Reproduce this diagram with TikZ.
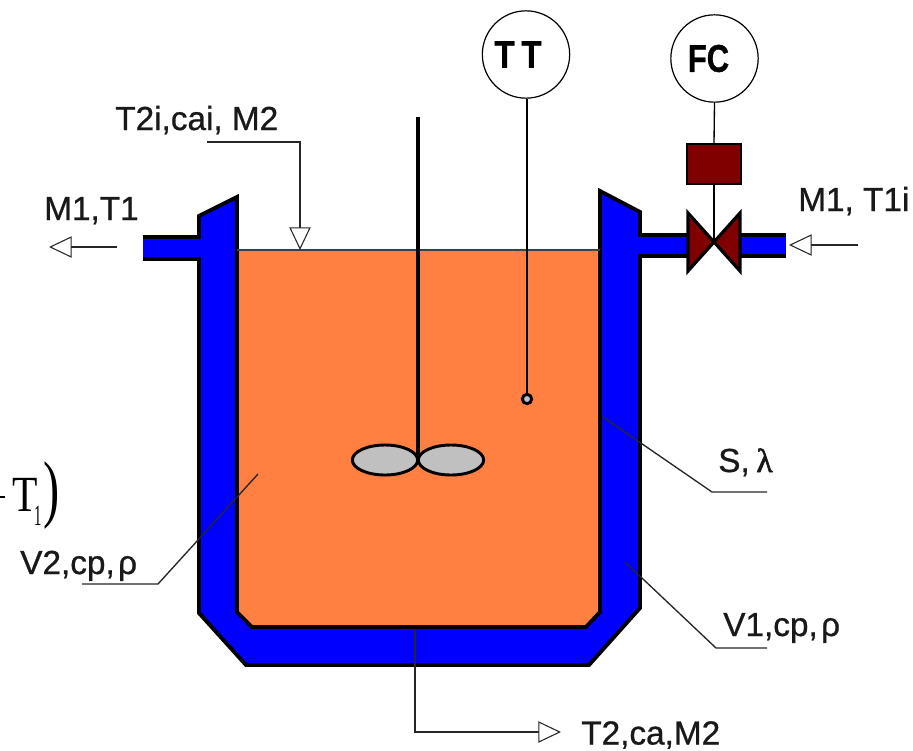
\documentclass[tikz,border=0pt]{standalone}
\usepackage{fontspec}
\setmainfont{Liberation Sans}
\newfontfamily\serifnum{Liberation Serif}
\newfontfamily\lblfont[FakeBold=0.8]{Liberation Sans}
\newfontfamily\lamfont[FakeBold=2]{Liberation Serif}
\newfontfamily\instfont[FakeBold=1]{Liberation Sans Bold}
\usetikzlibrary{arrows.meta,shapes.geometric}
\definecolor{jacket}{RGB}{0,0,255}
\definecolor{liquid}{RGB}{255,128,64}
\definecolor{valvered}{RGB}{128,0,0}
\definecolor{paddle}{RGB}{192,192,192}
\tikzset{
 lbl/.style={inner sep=0pt,anchor=base west,font=\lblfont\fontsize{25pt}{26pt}\selectfont,text=black!90},
 wall/.style={draw=black,line width=2.9pt,line join=miter},
 leader/.style={draw=black!85,line width=1pt},
 flow/.style={leader,-{Triangle[open,fill=white,length=17pt,width=16pt,line width=.8pt]}},
 instrument/.style={circle,draw=black,line width=.9pt,fill=white,minimum size=65.5pt,inner sep=0pt,font=\instfont\fontsize{29pt}{29pt}\selectfont},
 paddlestyle/.style={ellipse,draw=black,line width=2.2pt,fill=paddle,minimum width=49pt,minimum height=22.5pt,inner sep=0pt},
 valvepart/.style={draw=black,line width=2.4pt,line join=miter,fill=valvered},
}
\begin{document}
\begin{tikzpicture}[x=.75pt,y=-.75pt]
\useasboundingbox (0,0) rectangle (913,750);
% jacket fill
\path[fill=jacket]
 (143,237)--(199,237)--(199,216)--(237,197)--(237,250)--(600,250)--(600,191)--(640,212)--(640,235)
 --(690,235)--(690,256)--(640,256)--(640,608)--(589,665)--(246,665)--(199,613)--(199,259)--(143,259)--cycle;
\path[fill=jacket] (735,235) rectangle (786,256);
% vessel
\path[fill=liquid] (237,250)--(600,250)--(600,612)--(586,627)--(252,627)--(237,612)--cycle;
\path[wall] (237,250)--(237,612)--(252,627)--(586,627)--(600,612)--(600,250);
% jacket outline
\path[wall] (143,237)--(199,237)--(199,216)--(237,197)--(237,252);
\path[wall] (600,252)--(600,191)--(640,212)--(640,235)--(690,235);
\path[wall] (690,256)--(640,256)--(640,608)--(589,665)--(246,665)--(199,613)--(199,259)--(143,259);
\path[wall] (735,235)--(786,235);
\path[wall] (735,256)--(786,256);
\draw[line width=1.1pt,black!75] (237,250)--(600,250);
% agitator
\coordinate (shafttop) at (418,117);
\coordinate (shaftend) at (418,460);
\draw[line width=2.5pt] (shafttop)--(shaftend);
\node[paddlestyle] (p1) at (385,460) {};
\node[paddlestyle] (p2) at (451,460) {};
% instruments
\node[instrument] (TT) at (526,54.5) {\scalebox{.85}[1]{T\hspace{6pt}T}\kern 12pt};
\node[circle,draw=black,line width=2.2pt,fill=paddle,minimum size=7pt,inner sep=0pt] (probe) at (527,399) {};
\coordinate (ttlow) at (TT.south -| probe.north);
\draw[line width=1pt] (ttlow)--(probe.north);
\node[instrument] (FC) at (714.5,58.5) {\scalebox{.8}[1]{FC}\kern 9pt};
\node[draw=black,line width=1.5pt,fill=valvered,minimum width=40.5pt,minimum height=29.5pt,inner sep=0pt] (act) at (714,164) {};
\coordinate (vc) at (714,242);
\draw[line width=1pt] (FC.south)--(act.north);
\path[valvepart] (688,213)--(714,242)--(688,271)--cycle;
\path[valvepart] (740,213)--(714,242)--(740,271)--cycle;
\draw[line width=1pt] (act.south)--(vc);
% labels
\node[lbl] (Ltop) at (115,130) {T2i,cai, M2};
\node[lbl] (Lout) at (44,220) {M1,T1};
\node[lbl] (Lin) at (798,211) {M1, T1i};
\node[lbl] (Lbot) at (581,744.5) {T2,ca,M2};
\node[lbl] (Ls) at (718,472) {S,\hspace{5pt}{\lamfont λ}};
\node[lbl] (Lv1) at (723,636) {V1,cp,\hspace{2.5pt}ρ};
\node[lbl] (Lv2) at (20,574) {V2,cp,\hspace{2.5pt}ρ};
\node[inner sep=0pt,anchor=base west,font=\serifnum\fontsize{38pt}{38pt}\selectfont,xscale=.82] (Lt) at (12,511) {T\kern-3.2pt\raisebox{-10.5pt}{\fontsize{22pt}{22pt}\selectfont\scalebox{.61}[1]{1}}};
\node[inner sep=0pt,anchor=center,font=\serifnum\fontsize{56pt}{56pt}\selectfont,xscale=.65] (Lp) at (52,496) {)};
\coordinate (minusA) at (0,497);
\coordinate (minusB) at (5,497);
\draw[line width=1pt] (minusA)--(minusB);
% connectors
\coordinate (a1) at (207,142); \coordinate (a2) at (300,142); \coordinate (a3) at (300,250);
\draw[flow] (a1)--(a2)--(a3);
\coordinate (b1) at (117,247); \coordinate (b2) at (49,247);
\draw[flow] (b1)--(b2);
\coordinate (c1) at (858,245); \coordinate (c2) at (789,245);
\draw[flow] (c1)--(c2);
\coordinate (d1) at (415,630); \coordinate (d2) at (415,732); \coordinate (d3) at (561,732);
\draw[flow] (d1)--(d2)--(d3);
\coordinate (e1) at (258,474); \coordinate (e2) at (158,584); \coordinate (e3) at (82,584);
\draw[leader] (e1)--(e2)--(e3);
\coordinate (f1) at (625,562); \coordinate (f2) at (716,648); \coordinate (f3) at (767,648);
\draw[leader] (f1)--(f2)--(f3);
\coordinate (g1) at (603,417); \coordinate (g2) at (712,492); \coordinate (g3) at (767,492);
\draw[leader] (g1)--(g2)--(g3);
\end{tikzpicture}
\end{document}
